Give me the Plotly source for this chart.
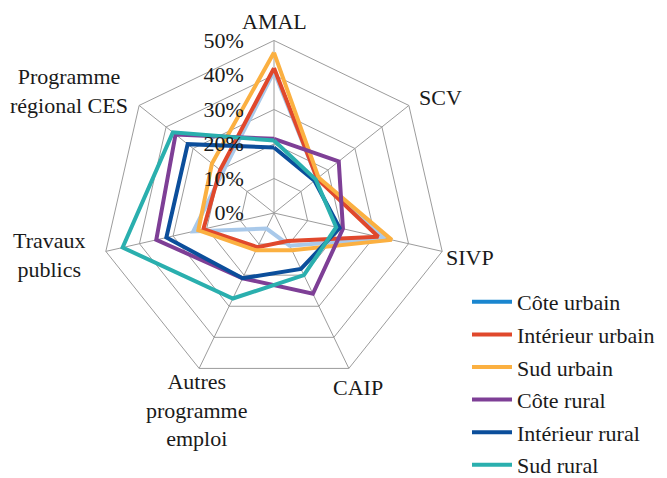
import plotly.graph_objects as go

# Programme categories (clockwise from the top)
categories = [
    "AMAL",
    "SCV",
    "SIVP",
    "CAIP",
    "Autres<br>programme<br>emploi",
    "Travaux<br>publics",
    "Programme<br>régional CES",
]

# Share of beneficiaries per programme (%)
cote_urbain = [41, 16, 33, 10.5, 5, 24, 19]
interieur_urbain = [42, 16, 31, 9, 11, 21, 20]
sud_urbain = [46.5, 16.5, 35, 12, 12, 22.5, 23]
cote_rural = [21.5, 24, 20.5, 26, 21, 35, 36.5]
interieur_rural = [19, 15, 19.5, 18, 21, 32, 32]
sud_rural = [21, 15.5, 18.5, 20, 27.5, 45, 37.5]

series_names = ["Côte urbain", "Intérieur urbain", "Sud urbain",
                "Côte rural", "Intérieur rural", "Sud rural"]
series_values = [cote_urbain, interieur_urbain, sud_urbain,
                 cote_rural, interieur_rural, sud_rural]

radial_ticks = [0, 10, 20, 30, 40, 50]
radial_labels = ["0%", "10%", "20%", "30%", "40%", "50%"]

# ---- styling -------------------------------------------------------------
W, H = 667, 478
FONT = "Liberation Serif"
FS = 22
TXT = "#1a1a1a"
GRID = "#9c9c9c"
line_colors = ["#a9c9ea", "#e0482c", "#fbb041", "#7e3f96", "#0b4e9b", "#2aafae"]
key_colors = ["#1a86cf", "#e0482c", "#fbb041", "#7e3f96", "#0b4e9b", "#2aafae"]

# polar area in pixels: centre and outer radius
CX, CY, R = 274, 213, 172.5

# category label anchors (px, centre of text block)
label_pos = [(274, 22), (440, 97), (470, 257), (358, 387),
             (196, 410), (49, 255), (69, 91)]

# legend rows (px)
legend_x = 467
legend_rows = [302, 334.6, 367.2, 399.8, 432.4, 465]


def px(x):
    return x / W


def py(y):
    return 1 - y / H


fig = go.Figure()
for i, (name, vals) in enumerate(zip(series_names, series_values)):
    lg = "legend" if i == 0 else f"legend{i + 1}"
    closed_r = vals + vals[:1]
    closed_t = categories + categories[:1]
    same = line_colors[i] == key_colors[i]
    fig.add_trace(go.Scatterpolar(
        r=closed_r, theta=closed_t, mode="lines", name=name,
        line=dict(color=line_colors[i], width=4), legendgroup=name,
        showlegend=same, legend=lg,
    ))
    if not same:
        # legend key drawn in the series' key colour
        fig.add_trace(go.Scatterpolar(
            r=[None], theta=[None], mode="lines", name=name,
            line=dict(color=key_colors[i], width=4), legendgroup=name,
            showlegend=True, legend=lg,
        ))

# category labels
annotations = [
    dict(x=px(lx), y=py(ly), xref="paper", yref="paper",
         text=cat, showarrow=False, xanchor="center", yanchor="middle",
         align="center", font=dict(family=FONT, size=FS, color=TXT))
    for cat, (lx, ly) in zip(categories, label_pos)
]

layout = dict(
    width=W, height=H,
    margin=dict(l=0, r=0, t=0, b=0, autoexpand=False),
    paper_bgcolor="white",
    font=dict(family=FONT, size=FS, color=TXT),
    annotations=annotations,
    polar=dict(
        domain=dict(x=[px(CX - R), px(CX + R)], y=[py(CY + R), py(CY - R)]),
        bgcolor="white",
        gridshape="linear",
        radialaxis=dict(
            range=[0, 50], tickvals=radial_ticks, ticktext=radial_labels,
            angle=90, tickangle=90, side="counterclockwise",
            showline=False, showgrid=True, gridcolor=GRID, gridwidth=1,
            ticks="outside", ticklen=22, tickcolor="rgba(0,0,0,0)",
            tickfont=dict(family=FONT, size=FS, color=TXT),
        ),
        angularaxis=dict(
            rotation=90, direction="clockwise",
            categoryorder="array", categoryarray=categories,
            showline=True, linecolor=GRID, linewidth=1,
            showgrid=True, gridcolor=GRID, gridwidth=1,
            ticks="", showticklabels=False,
        ),
    ),
)
for i, yrow in enumerate(legend_rows):
    key = "legend" if i == 0 else f"legend{i + 1}"
    layout[key] = dict(
        x=px(legend_x), y=py(yrow), xanchor="left", yanchor="middle",
        font=dict(family=FONT, size=FS, color=TXT),
        bgcolor="rgba(0,0,0,0)", itemwidth=40,
    )

fig.update_layout(**layout)
fig.write_html("out.html")
